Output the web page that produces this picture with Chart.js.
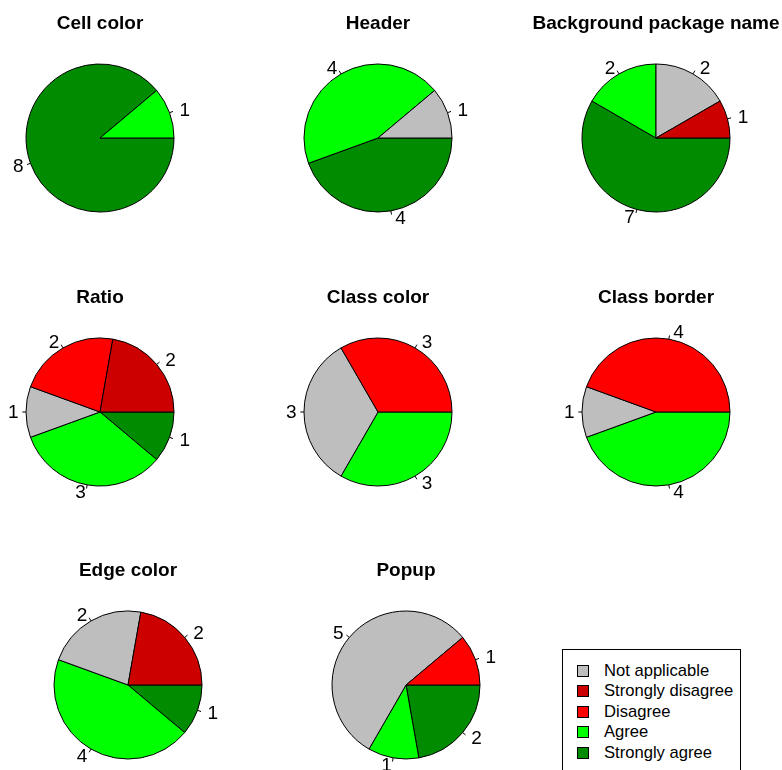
<!DOCTYPE html>
<html>
<head>
<meta charset="utf-8">
<script src="https://cdn.jsdelivr.net/npm/chart.js@4.4.1/dist/chart.umd.min.js"></script>
<style>
  html, body { margin: 0; padding: 0; background: #fff; }
  body { width: 782px; height: 770px; position: relative; overflow: hidden; font-family: "Liberation Sans", Arial, sans-serif; }
  canvas.pie { position: absolute; }
  #legend { position: absolute; left: 562px; top: 649px; width: 179px; height: 140px; border: 1px solid #000; box-sizing: border-box; }
  .item { position: absolute; left: 0; height: 20px; font-size: 16.6px; line-height: 20px; color: #000; white-space: nowrap; }
  .sw { position: absolute; left: 14px; top: 4px; width: 10px; height: 10px; border: 1px solid #000; }
  .lab { position: absolute; left: 41px; top: 0; }
</style>
</head>
<body>
<div id="legend"></div>
<script>
// Categories in the order the slices are drawn (counter-clockwise from 3 o'clock)
const categories = ['Strongly disagree', 'Disagree', 'Not applicable', 'Agree', 'Strongly agree'];
const categoryColors = ['#CD0000', '#FF0000', '#BEBEBE', '#00FF00', '#008B00'];
// Legend order
const legendOrder = ['Not applicable', 'Strongly disagree', 'Disagree', 'Agree', 'Strongly agree'];

// Counts per question, in category order above
const titles = ['Cell color', 'Header', 'Background package name', 'Ratio', 'Class color', 'Class border', 'Edge color', 'Popup'];
const cellColor   = [0, 0, 0, 1, 8];
const header      = [0, 0, 1, 4, 4];
const background  = [1, 0, 2, 2, 7];
const ratio       = [2, 2, 1, 3, 1];
const classColor  = [0, 3, 3, 3, 0];
const classBorder = [0, 4, 1, 4, 0];
const edgeColor   = [2, 0, 2, 4, 1];
const popup       = [0, 1, 5, 1, 2];
const allCounts = [cellColor, header, background, ratio, classColor, classBorder, edgeColor, popup];

// layout (pie centres)
const centres = [
  [100.3, 137.5], [378.3, 137.5], [656.3, 137.5],
  [100.3, 411.5], [378.3, 411.5], [656.3, 411.5],
  [128.3, 685.0], [406.3, 685.0]
];
const SIZE = 260, RADIUS = 74;
const FONT = '"Liberation Sans", Arial, sans-serif';

const outerLabels = {
  id: 'outerLabels',
  afterDatasetsDraw(chart) {
    const ctx = chart.ctx;
    const meta = chart.getDatasetMeta(0);
    const ds = chart.data.datasets[0];
    ctx.save();
    ctx.font = '19px ' + FONT;
    ctx.fillStyle = '#000';
    ctx.strokeStyle = '#000';
    ctx.lineWidth = 1;
    meta.data.forEach((arc, i) => {
      const p = arc.getProps(['x', 'y', 'startAngle', 'endAngle', 'outerRadius'], true);
      const mid = (p.startAngle + p.endAngle) / 2;
      const c = Math.cos(mid), s = Math.sin(mid);
      const r = p.outerRadius;
      ctx.beginPath();
      ctx.moveTo(p.x + r * c, p.y + r * s);
      ctx.lineTo(p.x + 1.05 * r * c, p.y + 1.05 * r * s);
      ctx.stroke();
      const left = c >= 0;
      ctx.textAlign = left ? 'left' : 'right';
      ctx.textBaseline = 'middle';
      ctx.fillText(String(ds.data[i]), p.x + 1.1 * r * c + (left ? 3 : 0), p.y + 1.1 * r * s + 1);
    });
    ctx.restore();
  }
};

const pieTitle = {
  id: 'pieTitle',
  afterDraw(chart, args, opts) {
    const ctx = chart.ctx;
    ctx.save();
    ctx.font = 'bold 19px ' + FONT;
    ctx.fillStyle = '#000';
    ctx.textAlign = 'center';
    ctx.textBaseline = 'middle';
    ctx.fillText(opts.text, SIZE / 2, SIZE / 2 - 114.7);
    ctx.restore();
  }
};

allCounts.forEach((counts, q) => {
  const canvas = document.createElement('canvas');
  canvas.className = 'pie';
  canvas.width = SIZE; canvas.height = SIZE;
  canvas.style.width = SIZE + 'px'; canvas.style.height = SIZE + 'px';
  canvas.style.left = (centres[q][0] - SIZE / 2) + 'px';
  canvas.style.top = (centres[q][1] - SIZE / 2) + 'px';
  document.body.appendChild(canvas);

  // Chart.js draws clockwise: reverse order and start at 3 o'clock
  const idx = [];
  counts.forEach((v, i) => { if (v > 0) idx.push(i); });
  idx.reverse();
  const pad = (SIZE - 2 * RADIUS - 1) / 2;

  new Chart(canvas, {
    type: 'pie',
    data: {
      labels: idx.map(i => categories[i]),
      datasets: [{
        data: idx.map(i => counts[i]),
        backgroundColor: idx.map(i => categoryColors[i]),
        borderColor: '#000',
        borderWidth: 1
      }]
    },
    options: {
      responsive: false,
      animation: false,
      devicePixelRatio: 1,
      rotation: 90,
      layout: { padding: pad },
      plugins: {
        legend: { display: false },
        tooltip: { enabled: false },
        title: { display: false },
        pieTitle: { text: titles[q] }
      }
    },
    plugins: [outerLabels, pieTitle]
  });
});

// legend
const legend = document.getElementById('legend');
legendOrder.forEach((name, k) => {
  const item = document.createElement('div');
  item.className = 'item';
  item.style.top = (11 + k * 20.4) + 'px';
  const sw = document.createElement('div');
  sw.className = 'sw';
  sw.style.background = categoryColors[categories.indexOf(name)];
  const lab = document.createElement('div');
  lab.className = 'lab';
  lab.textContent = name;
  item.appendChild(sw); item.appendChild(lab);
  legend.appendChild(item);
});
</script>
</body>
</html>
